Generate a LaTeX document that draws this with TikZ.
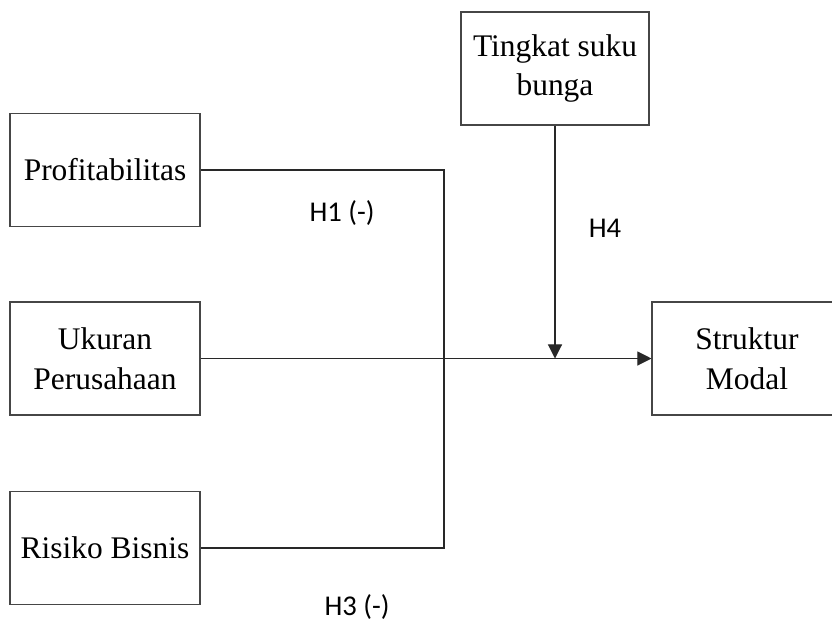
\documentclass[tikz,border=0pt]{standalone}
\usepackage{fontspec}
\setmainfont{Liberation Serif}
\newfontfamily\hfont{Carlito}
\usepackage{xcolor}
\definecolor{LineGray}{RGB}{40,40,40}
\definecolor{BoxGray}{RGB}{70,70,70}
\usepackage{tikz}
\usetikzlibrary{arrows.meta, positioning, calc}
\tikzset{
  % Variable box
  varbox/.style={
    rectangle, draw=BoxGray, line width=0.6pt,
    fill=white, align=center,
    minimum width=190*0.02cm, minimum height=113*0.02cm,
    font=\fontsize{17.9}{22.7}\selectfont, inner sep=2pt
  },
  % Connectors
  link/.style={line width=0.6pt, LineGray},
  arr/.style={-{Triangle[length=8pt,width=8pt]}, line width=0.6pt, LineGray},
  % Hypothesis label
  hlabel/.style={font=\hfont\fontsize{16.3}{19}\selectfont, inner sep=0pt},
}

\begin{document}
\begin{tikzpicture}[x=0.02cm, y=-0.02cm]
  \useasboundingbox (0,0) rectangle (832,623);
  \clip (0,0) rectangle (832,623);

  %% Independent variables
  \node[varbox] (profit) at (105,170)   {Profitabilitas};
  \node[varbox] (ukuran) at (105,358.5) {Ukuran\\Perusahaan};
  \node[varbox] (risiko) at (105,548)   {Risiko Bisnis};

  %% Moderating and dependent variable
  \node[varbox, minimum width=188*0.02cm] (bunga) at (555,68.5) {Tingkat suku\\bunga};
  \node[varbox] (struktur) at (747,358.5) {Struktur\\Modal};

  %% Connectors
  \coordinate (join) at (444,359);
  \draw[link] (profit.east) -- (profit.east -| join)
                            -- (risiko.east -| join) -- (risiko.east);
  \draw[arr] (ukuran.east) -- (struktur.west);
  \draw[arr] (bunga.south) -- (bunga.south |- ukuran.east);

  %% Hypotheses
  \node[hlabel] (h1) at (342,213) {H1 (-)};
  \node[hlabel] (h4) at (605,228) {H4};
  \node[hlabel] (h3) at (357,607) {H3 (-)};
\end{tikzpicture}
\end{document}
